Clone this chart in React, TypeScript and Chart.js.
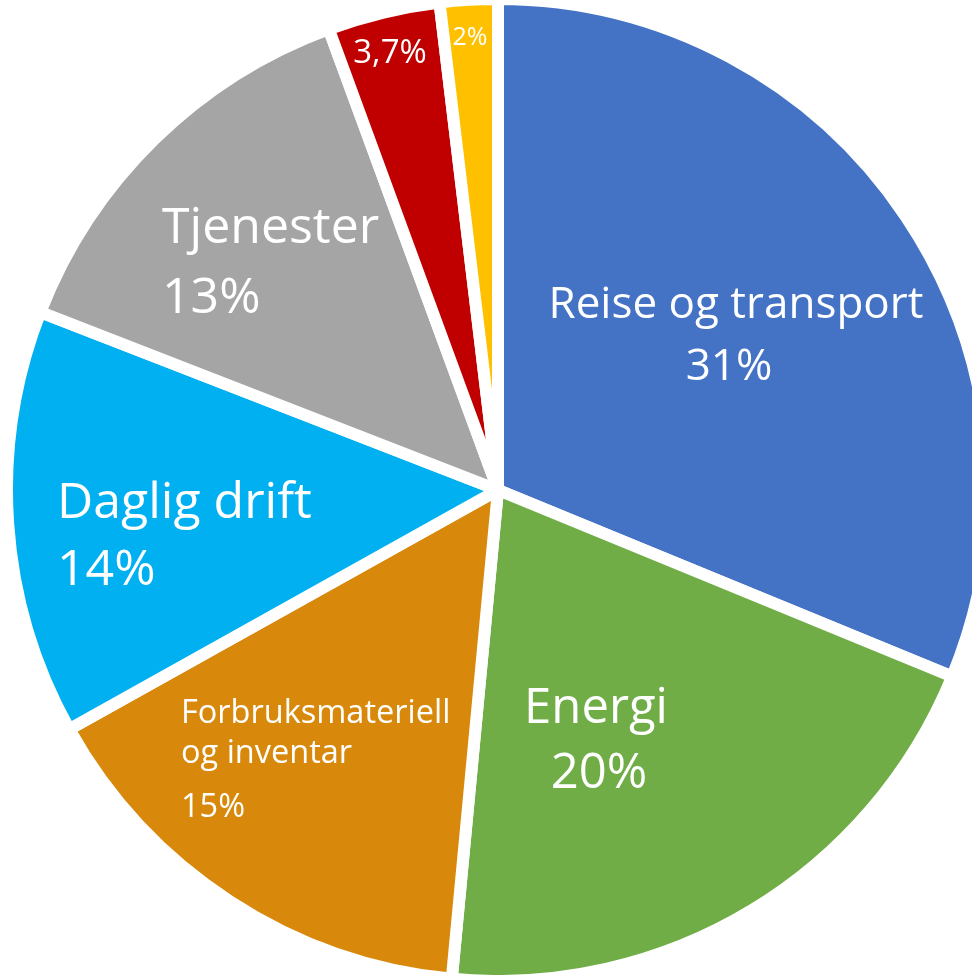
import React, { useEffect, useRef } from "react";
import { Chart, registerables } from "chart.js";

Chart.register(...registerables);

// ---- data ----
const categories = [
  "Reise og transport",
  "Energi",
  "Forbruksmateriell og inventar",
  "Daglig drift",
  "Tjenester",
  "Øvrig 1",
  "Øvrig 2",
];
const shares = [31.2, 20.3, 15.4, 14.0, 13.5, 3.7, 1.9];
const percentLabels = ["31%", "20%", "15%", "14%", "13%", "3,7%", "2%"];
const nameLines = [
  ["Reise og transport"],
  ["Energi"],
  ["Forbruksmateriell", "og inventar"],
  ["Daglig drift"],
  ["Tjenester"],
  [],
  [],
];
const colors = ["#4472C4", "#70AD47", "#D8890B", "#00B0F0", "#A5A5A5", "#C00000", "#FFC000"];

// ---- label layout (pixel offsets from the pie centre, per slice: one entry per line) ----
const labelLayout = [
  { align: "center", size: 44, lines: [[238, -172], [231, -110]] },
  { align: "center", size: 49, lines: [[98, 233], [101, 298]] },
  { align: "left", size: 32.5, lines: [[-317, 233], [-317, 273], [-317, 327]] },
  { align: "left", size: 50, lines: [[-441, 28], [-441, 95]] },
  { align: "left", size: 50, lines: [[-336, -247], [-336, -177]] },
  { align: "center", size: 33, lines: [[-108, -427]] },
  { align: "center", size: 25, lines: [[-28, -445]] },
];

const FONT = "'Open Sans', 'Noto Sans', sans-serif";

const labelPlugin = {
  id: "sliceLabels",
  afterDatasetsDraw(chart: any) {
    const meta = chart.getDatasetMeta(0);
    const ctx = chart.ctx;
    ctx.save();
    ctx.fillStyle = "#FFFFFF";
    ctx.textBaseline = "alphabetic";
    meta.data.forEach((arc: any, i: number) => {
      const layout = labelLayout[i];
      const texts = [...nameLines[i], percentLabels[i]];
      ctx.font = `${layout.size}px ${FONT}`;
      ctx.textAlign = layout.align;
      texts.forEach((t, j) => {
        const [dx, dy] = layout.lines[j];
        ctx.fillText(t, arc.x + dx, arc.y + dy);
      });
    });
    ctx.restore();
  },
};

export default function App() {
  const canvasRef = useRef<HTMLCanvasElement | null>(null);

  useEffect(() => {
    if (!canvasRef.current) return;
    const chart = new Chart(canvasRef.current, {
      type: "pie",
      data: {
        labels: categories,
        datasets: [
          {
            data: shares,
            backgroundColor: colors,
            borderColor: "#FFFFFF",
            borderWidth: 12,
          },
        ],
      },
      options: {
        responsive: false,
        animation: false,
        radius: 491,
        rotation: 0,
        layout: { padding: { left: 24, right: 0, top: 5, bottom: 0 } },
        plugins: {
          legend: { display: false },
          tooltip: { enabled: false },
        },
      } as any,
      plugins: [labelPlugin],
    });
    return () => chart.destroy();
  }, []);

  return (
    <div
      style={{
        position: "absolute",
        left: 0,
        top: 0,
        width: 972,
        height: 975,
        overflow: "hidden",
        background: "#FFFFFF",
      }}
    >
      <canvas ref={canvasRef} width={972} height={975} style={{ width: 972, height: 975, display: "block" }} />
    </div>
  );
}
